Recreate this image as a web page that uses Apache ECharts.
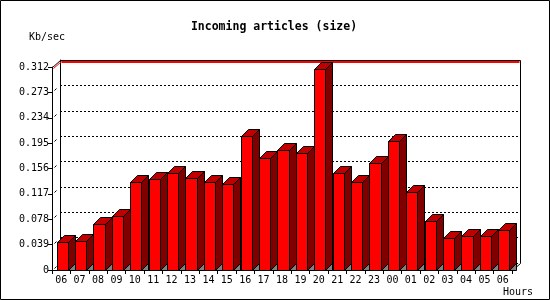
<!DOCTYPE html>
<html><head><meta charset="utf-8">
<script src="https://cdn.jsdelivr.net/npm/echarts@6/dist/echarts.min.js"></script>
<style>html,body{margin:0;padding:0;background:#fff}#c{width:550px;height:300px}</style>
</head><body><div id="c"></div>
<script>
const categories = ['06','07','08','09','10','11','12','13','14','15','16','17','18','19','20','21','22','23','00','01','02','03','04','05','06'];
const sizeValues = [0.0435,0.045,0.0707,0.0825,0.1357,0.1394,0.1486,0.141,0.1348,0.1317,0.2055,0.1717,0.1844,0.1793,0.3085,0.1486,0.1357,0.164,0.1983,0.1194,0.0748,0.0487,0.0518,0.0518,0.061];
const yTickLabels = ['0','0.039','0.078','0.117','0.156','0.195','0.234','0.273','0.312'];
const yMin = 0, yMax = 0.312, yStep = 0.039;
const titleText = 'Incoming articles (size)';
const yUnit = 'Kb/sec';
const xName = 'Hours';

const FONT = '"DejaVu Sans Mono", monospace';
const DX = 8, DY = 7;     // wall depth
const BDX = 7, BDY = 7;   // bar depth
const px = v => Math.round(v) + 0.5;

const chart = echarts.init(document.getElementById('c'), null, {renderer: 'canvas'});

function renderBar(params, api) {
  const xi = api.value(0), v = api.value(1);
  const top = api.coord([xi, v]);
  const base = api.coord([xi, 0]);
  const band = api.size([1, 0])[0];
  const x0 = px(top[0] - band * 0.245);
  const x1 = px(top[0] - band * 0.245 + band * 0.6);
  const yt = px(top[1]), yb = px(base[1]);
  const st = {stroke: '#000', lineWidth: 1};
  return {
    type: 'group',
    children: [
      {type: 'polygon', shape: {points: [[x1, yt], [x1 + BDX, yt - BDY], [x1 + BDX, yb - BDY], [x1, yb]]}, style: Object.assign({fill: '#800000'}, st)},
      {type: 'polygon', shape: {points: [[x0, yt], [x0 + BDX, yt - BDY], [x1 + BDX, yt - BDY], [x1, yt]]}, style: Object.assign({fill: '#c00000'}, st)},
      {type: 'rect', shape: {x: x0, y: yt, width: x1 - x0, height: yb - yt}, style: Object.assign({fill: '#ff0000'}, st)},
      {type: 'polygon', shape: {points: [[x1, yb], [x1 + BDX, yb - BDY], [x1 + BDX, yb]]}, style: Object.assign({fill: '#808080'}, st)}
    ]
  };
}

function renderFrame(params, api) {
  const band = api.size([1, 0])[0];
  const left = px(api.coord([0, 0])[0] - band / 2);
  const right = px(api.coord([categories.length - 1, 0])[0] + band / 2);
  const yb = px(api.coord([0, yMin])[1]);
  const ytop = px(api.coord([0, yMax])[1]);
  const kids = [];
  const line = (x1, y1, x2, y2, c, w) => kids.push({type: 'line', shape: {x1, y1, x2, y2}, style: {stroke: c, lineWidth: w || 1, fill: null}});
  // red top line (just under the back-wall top edge)
  line(left + DX + 1, ytop - DY + 1.5, right + DX - 1, ytop - DY + 1.5, '#ff0000', 2);
  line(left + 1, ytop + 1, left + DX + 1, ytop - DY + 1, '#ff0000');
  // back wall top and right edge
  line(left + DX, ytop - DY, right + DX, ytop - DY, '#000');
  line(right + DX, ytop - DY, right + DX, yb - DY, '#000');
  line(right, yb, right + DX, yb - DY, '#000');
  // top-left diagonal
  line(left, ytop, left + DX, ytop - DY, '#000');
  // small diagonals at ticks
  for (let i = 0; i < yTickLabels.length - 1; i++) {
    const y = px(api.coord([0, yMin + i * yStep])[1]);
    line(left + 2, y - 2, left + 4, y - 4, '#000');
  }
  return {type: 'group', children: kids};
}

const option = {
  animation: false,
  backgroundColor: '#fff',
  textStyle: {fontFamily: FONT},
  grid: [
    {left: 52, right: 38, top: 67, bottom: 30},
    {left: 52 + DX, right: 38 - DX, top: 67 - DY, bottom: 30 + DY}
  ],
  xAxis: [
    {type: 'category', gridIndex: 0, data: categories, boundaryGap: true,
     axisLine: {show: true, lineStyle: {color: '#000', width: 1}},
     axisTick: {show: true, length: 4, lineStyle: {color: '#000'}},
     axisLabel: {color: '#000', fontFamily: FONT, fontSize: 10, margin: 5, interval: 0},
     splitLine: {show: false}},
    {type: 'category', gridIndex: 1, data: categories, show: false}
  ],
  yAxis: [
    {type: 'value', gridIndex: 0, min: yMin, max: yMax, interval: yStep,
     axisLine: {show: true, lineStyle: {color: '#000', width: 1}},
     axisTick: {show: true, length: 4, lineStyle: {color: '#000'}},
     axisLabel: {color: '#000', fontFamily: FONT, fontSize: 10, margin: 3,
                 formatter: (v, i) => yTickLabels[i]},
     splitLine: {show: false}},
    {type: 'value', gridIndex: 1, min: yMin, max: yMax, interval: yStep,
     axisLine: {show: true, lineStyle: {color: '#000', width: 1}},
     axisTick: {show: false}, axisLabel: {show: false},
     splitLine: {show: true, lineStyle: {color: '#000', width: 1, type: [2, 2]}}}
  ],
  graphic: [
    {type: 'rect', shape: {x: 0.5, y: 0.5, width: 549, height: 299}, style: {fill: 'transparent', stroke: '#000', lineWidth: 1}, z: 100},
    {type: 'text', x: 274, y: 27, style: {text: titleText, font: 'bold 11.5px ' + FONT, fill: '#000', textAlign: 'center', textVerticalAlign: 'middle'}},
    {type: 'text', x: 29, y: 37, style: {text: yUnit, font: '10px ' + FONT, fill: '#000', textAlign: 'left', textVerticalAlign: 'middle'}},
    {type: 'text', x: 533, y: 292, style: {text: xName, font: '10px ' + FONT, fill: '#000', textAlign: 'right', textVerticalAlign: 'middle'}}
  ],
  series: [
    {type: 'custom', xAxisIndex: 0, yAxisIndex: 0, z: 5, silent: true, clip: false,
     renderItem: renderFrame, data: [[0, 0]]},
    {type: 'custom', xAxisIndex: 0, yAxisIndex: 0, z: 6, clip: false,
     renderItem: renderBar,
     encode: {x: 0, y: 1},
     data: sizeValues.map((v, i) => [i, v])}
  ]
};
chart.setOption(option);
</script></body></html>
